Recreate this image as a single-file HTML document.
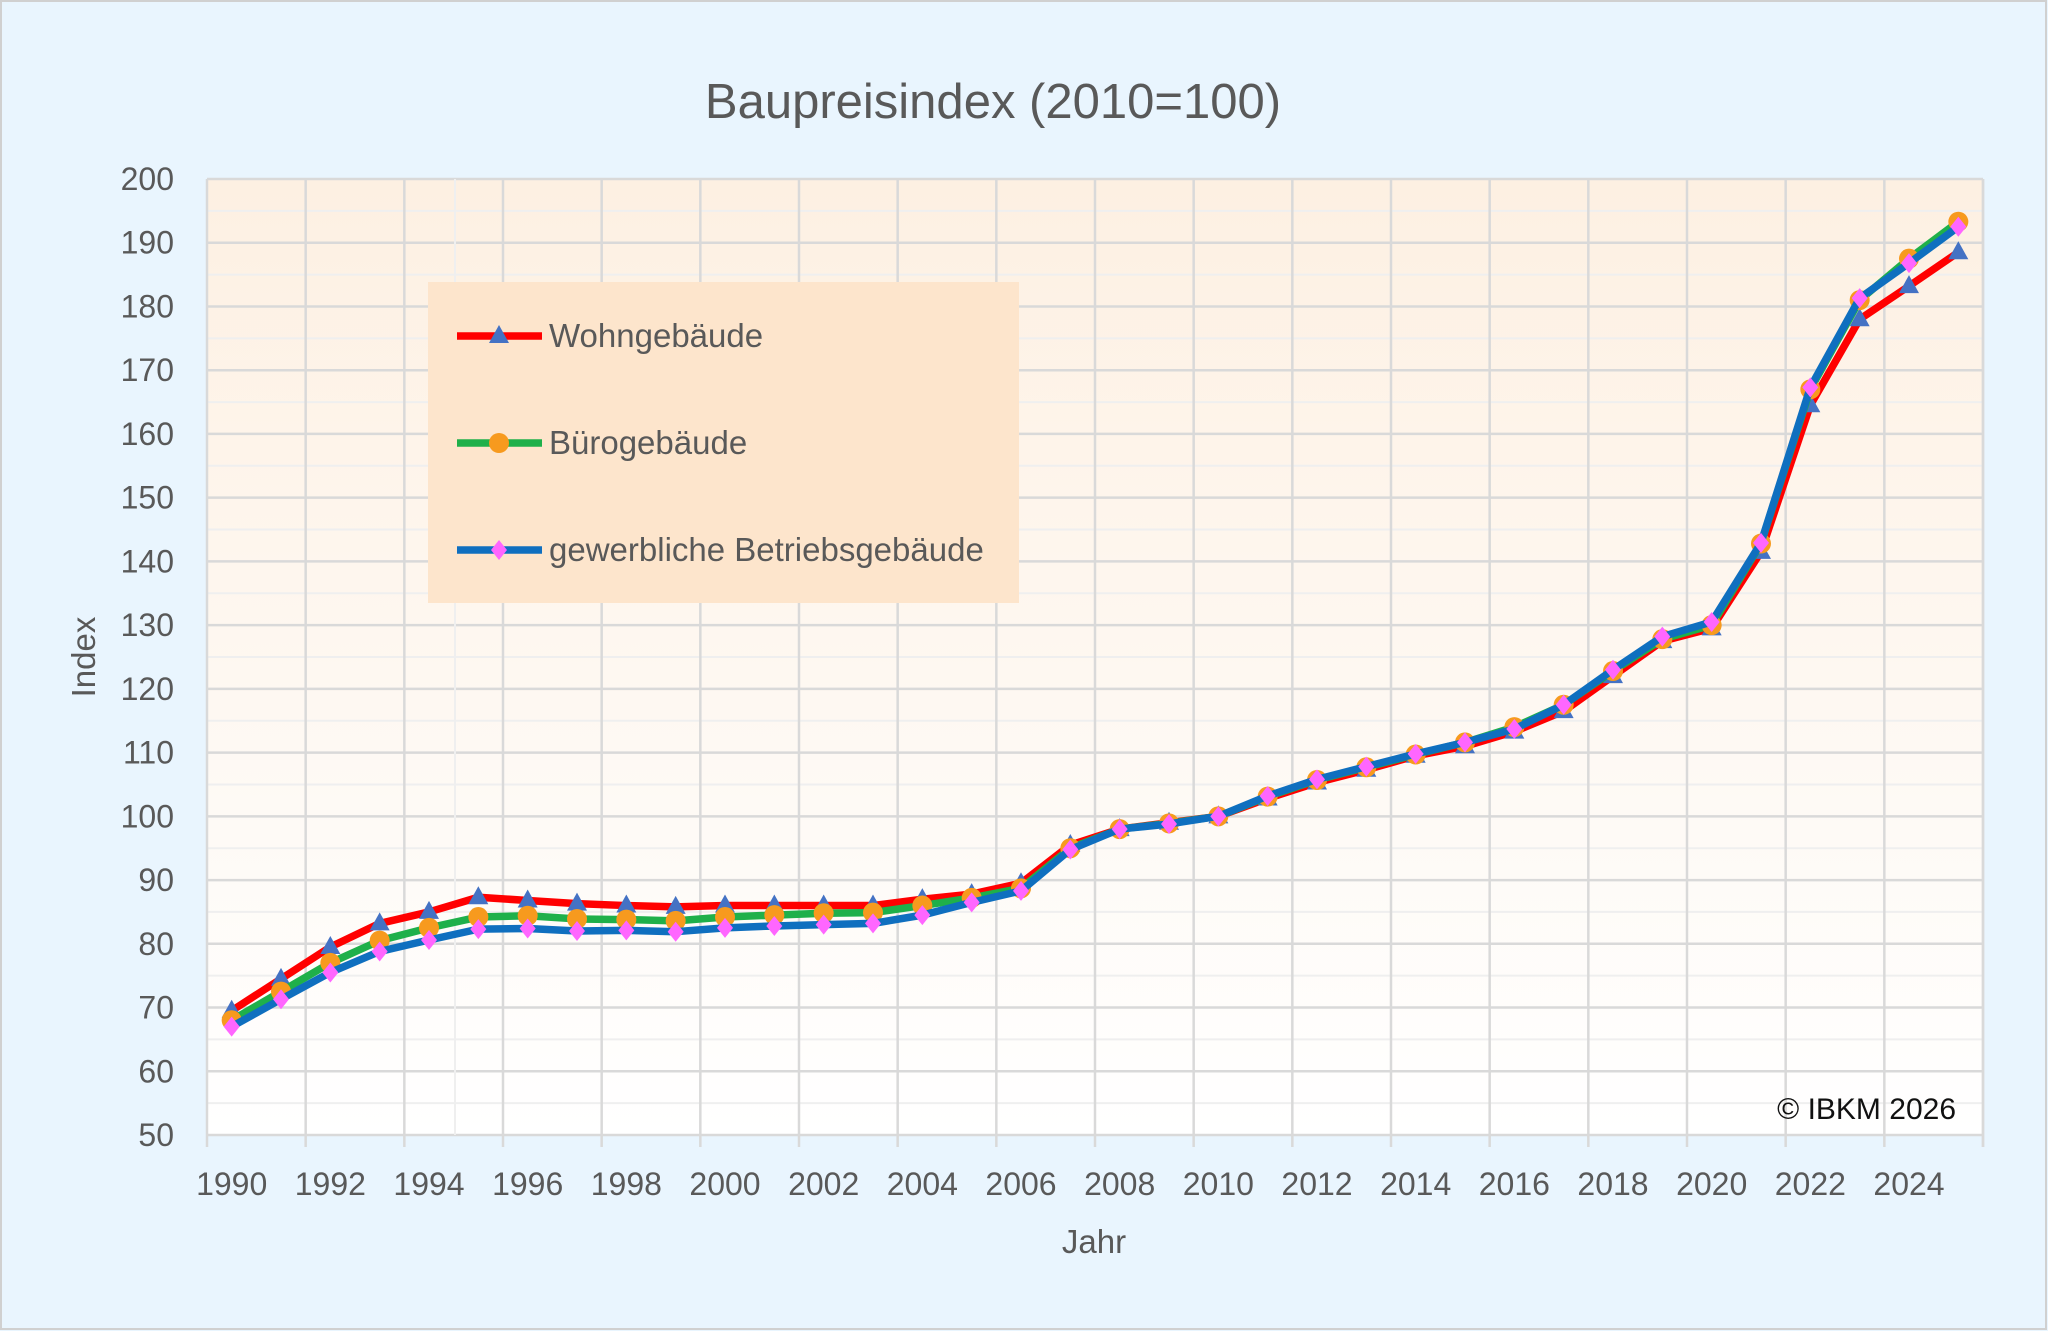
<!DOCTYPE html>
<html><head><meta charset="utf-8"><style>
html,body{margin:0;padding:0;background:#e9f5fe}
svg{display:block}
text{font-family:"Liberation Sans",sans-serif}
</style></head><body>
<svg id="s" width="2048" height="1331" viewBox="0 0 2048 1331" xmlns="http://www.w3.org/2000/svg">
<defs><linearGradient id="g" x1="0" y1="0" x2="0" y2="1"><stop offset="0" stop-color="#fdf0e2"/><stop offset="1" stop-color="#ffffff"/></linearGradient></defs>
<rect x="1" y="1" width="2045" height="1328" fill="#e9f5fe" stroke="#d0d0d0" stroke-width="2"/>
<rect x="207" y="179" width="1776" height="956" fill="url(#g)"/>
<g id="grid"></g>
<text x="993" y="118" font-size="49" fill="#595959" text-anchor="middle">Baupreisindex (2010=100)</text>
<text x="95" y="657" font-size="33" fill="#595959" text-anchor="middle" transform="rotate(-90 95 657)">Index</text>
<text x="1094" y="1253" font-size="33" fill="#595959" text-anchor="middle">Jahr</text>
<rect x="428" y="282" width="591" height="321" fill="#fde5cc"/>
<g id="series"></g>
<g id="leg"></g>
<text x="1956" y="1119" font-size="30" fill="#111" text-anchor="end">© IBKM  2026</text>
</svg>
<script>
const NS="http://www.w3.org/2000/svg";
function el(p,t,a,txt){const e=document.createElementNS(NS,t);for(const k in a)e.setAttribute(k,a[k]);if(txt!=null)e.textContent=txt;p.appendChild(e);return e;}
const L=207,T=179,R=1983,B=1135,cw=(R-L)/36;
const X=i=>L+(i+0.5)*cw, Y=v=>B-(v-50)*(B-T)/150;
const g=document.getElementById('grid');
for(let v=55;v<200;v+=10)el(g,'line',{x1:L,x2:R,y1:Y(v),y2:Y(v),stroke:'#efefef','stroke-width':2});
for(let v=50;v<=200;v+=10)el(g,'line',{x1:L,x2:R,y1:Y(v),y2:Y(v),stroke:'#d9d9d9','stroke-width':2.5});
for(let k=0;k<=18;k++){const x=L+k*2*cw;el(g,'line',{x1:x,x2:x,y1:T,y2:B+12,stroke:'#d9d9d9','stroke-width':2.5});}
el(g,'line',{x1:455,x2:455,y1:T,y2:B,stroke:'#efefef','stroke-width':2});
el(g,'line',{x1:R,x2:R,y1:T,y2:B+12,stroke:'#d9d9d9','stroke-width':2.5});
for(let v=50;v<=200;v+=10)el(g,'text',{x:174,y:Y(v)+11,'font-size':32,fill:'#595959','text-anchor':'end'},v);
for(let k=0;k<18;k++)el(g,'text',{x:X(2*k),y:1195,'font-size':32,fill:'#595959','text-anchor':'middle'},1990+2*k);
const W=[69.5,74.5,79.5,83.2,85,87.3,86.8,86.3,86,85.8,86,86,86,86,87,87.8,89.5,95.5,98,99,100,102.8,105.3,107.3,109.5,111,113.3,116.5,122,127.5,129.5,141.5,164.5,178,183.2,188.5];
const Bu=[68,72.5,77,80.5,82.5,84.2,84.4,83.9,83.8,83.6,84.2,84.5,84.8,84.9,86,87.2,88.7,95,98,98.9,100,103.1,105.7,107.7,109.7,111.6,114,117.5,122.8,127.8,130,142.8,167,181,187.5,193.3];
const G=[67,71.3,75.5,78.8,80.6,82.3,82.4,82,82.1,81.9,82.5,82.8,83,83.2,84.5,86.5,88.3,94.8,98,98.8,100,103.2,105.8,107.8,109.8,111.6,113.7,117.5,123,128.2,130.5,142.9,167.3,181.3,186.8,192.5];
const s=document.getElementById('series');
function mk(p,type,x,y){
 if(type=='tri')el(p,'polygon',{points:`${x},${y-11} ${x-10},${y+7} ${x+10},${y+7}`,fill:'#4472c4'});
 else if(type=='cir')el(p,'circle',{cx:x,cy:y,r:10,fill:'#f79a1e'});
 else el(p,'polygon',{points:`${x},${y-10} ${x+8},${y} ${x},${y+10} ${x-8},${y}`,fill:'#ff66ff'});
}
const ser=[[W,'#ff0000','tri'],[Bu,'#1fb04a','cir'],[G,'#0f6fbf','dia']];
for(const [d,c,m] of ser){
 el(s,'polyline',{points:d.map((v,i)=>X(i)+','+Y(v)).join(' '),fill:'none',stroke:c,'stroke-width':7.5,'stroke-linejoin':'round'});
 d.forEach((v,i)=>mk(s,m,X(i),Y(v)));
}
const lg=document.getElementById('leg');
const names=['Wohngebäude','Bürogebäude','gewerbliche Betriebsgebäude'];
ser.forEach(([d,c,m],i)=>{const y=336+i*107;
 el(lg,'line',{x1:457,x2:542,y1:y,y2:y,stroke:c,'stroke-width':7.5});
 mk(lg,m,499,y);
 el(lg,'text',{x:549,y:y+11,'font-size':33,fill:'#595959'},names[i]);
});
</script>
</body></html>
